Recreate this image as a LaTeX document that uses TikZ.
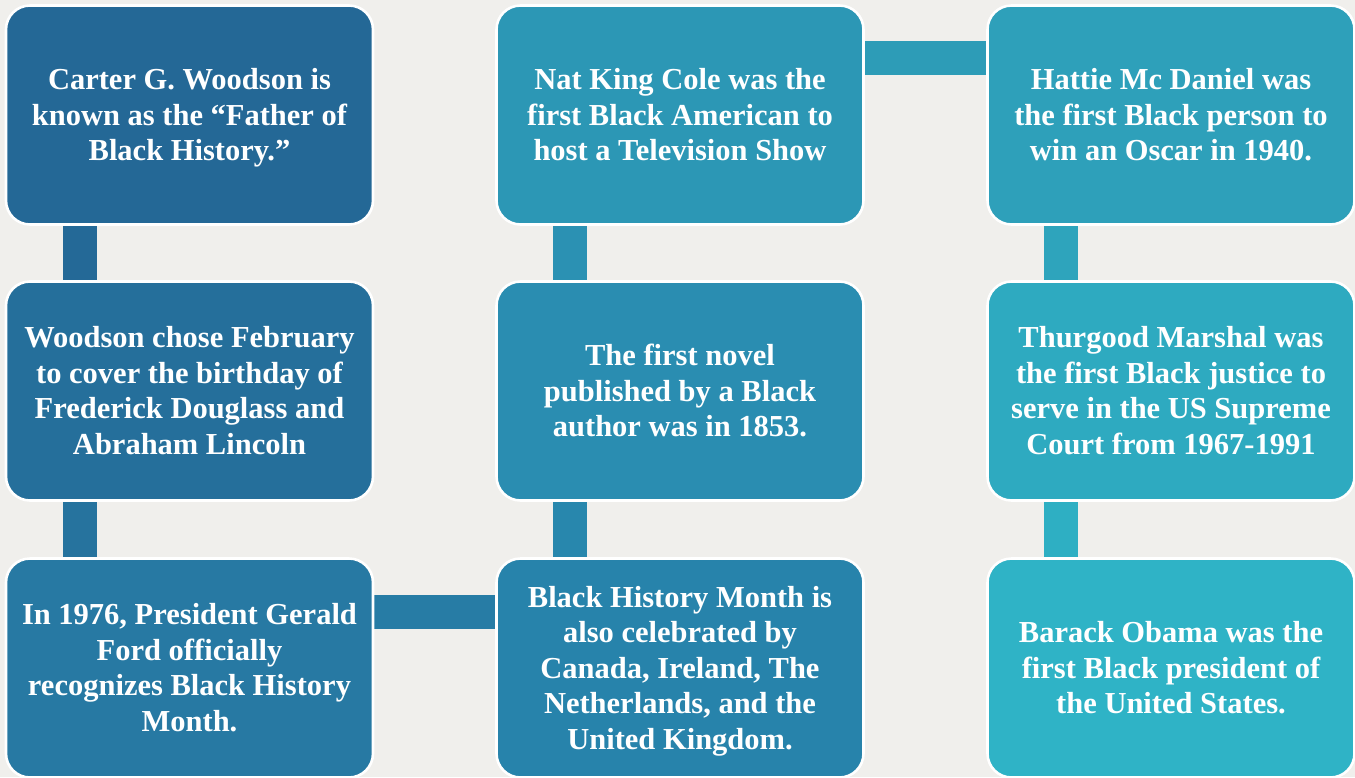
\documentclass[tikz,border=0pt]{standalone}
\usepackage{fontspec}
\setmainfont{Liberation Serif}
\usetikzlibrary{backgrounds}
\definecolor{bgc}{RGB}{240,239,236}
\definecolor{cA}{RGB}{36,104,150}
\definecolor{cB}{RGB}{37,111,155}
\definecolor{cC}{RGB}{39,121,163}
\definecolor{cD}{RGB}{39,131,171}
\definecolor{cE}{RGB}{42,141,177}
\definecolor{cF}{RGB}{44,151,181}
\definecolor{cG}{RGB}{46,160,186}
\definecolor{cH}{RGB}{46,170,192}
\definecolor{cI}{RGB}{47,179,198}
\newcommand{\factlead}{\rule{0pt}{31pt}}
\tikzset{
  factbox/.style={rectangle, rounded corners=24pt, draw=white, line width=2.6pt,
    minimum width=367pt, minimum height=219pt, inner sep=0pt, text=white,
    align=center, font=\bfseries\fontsize{30.5}{35.5}\selectfont,
    execute at end node=\strut},
  linkbar/.style={line width=34pt}
}
\begin{document}
\begin{tikzpicture}[x=1pt,y=-1pt]
\useasboundingbox (0,0) rectangle (1355,777);
% nodes
\node[factbox, fill=cA] (b1) at (189.5,115) {\factlead Carter G. Woodson is\\known as the “Father of\\Black History.”};
\node[factbox, fill=cB] (b2) at (189.5,391) {\factlead Woodson chose February\\to cover the birthday of\\Frederick Douglass and\\Abraham Lincoln};
\node[factbox, fill=cC] (b3) at (189.5,668) {\factlead In 1976, President Gerald\\Ford officially\\recognizes Black History\\Month.};
\node[factbox, fill=cD] (b4) at (680,668) {\factlead Black History Month is\\also celebrated by\\Canada, Ireland, The\\Netherlands, and the\\United Kingdom.};
\node[factbox, fill=cE] (b5) at (680,391) {\factlead The first novel\\published by a Black\\author was in 1853.};
\node[factbox, fill=cF] (b6) at (680,115) {\factlead Nat King Cole was the\\first Black American to\\host a Television Show};
\node[factbox, fill=cG] (b7) at (1171,115) {\factlead Hattie Mc Daniel was\\the first Black person to\\win an Oscar in 1940.};
\node[factbox, fill=cH] (b8) at (1171,391) {\factlead Thurgood Marshal was\\the first Black justice to\\serve in the US Supreme\\Court from 1967-1991};
\node[factbox, fill=cI] (b9) at (1171,668) {\factlead Barack Obama was the\\first Black president of\\the United States.};
% background and connectors behind the boxes
\begin{scope}[on background layer]
\fill[bgc] (0,0) rectangle (1355,777);
\draw[linkbar, color=cA!80!cB] ([xshift=-110pt]b1.south) -- ([xshift=-110pt]b2.north);
\draw[linkbar, color=cB!60!cC] ([xshift=-110pt]b2.south) -- ([xshift=-110pt]b3.north);
\draw[linkbar, color=cC!70!cD] ([yshift=56pt]b3.east) -- ([yshift=56pt]b4.west);
\draw[linkbar, color=cD!60!cE] ([xshift=-110pt]b4.north) -- ([xshift=-110pt]b5.south);
\draw[linkbar, color=cE!60!cF] ([xshift=-110pt]b5.north) -- ([xshift=-110pt]b6.south);
\draw[linkbar, color=cF!50!cG] ([yshift=57pt]b6.east) -- ([yshift=57pt]b7.west);
\draw[linkbar, color=cG!60!cH] ([xshift=-110pt]b7.south) -- ([xshift=-110pt]b8.north);
\draw[linkbar, color=cH!50!cI] ([xshift=-110pt]b8.south) -- ([xshift=-110pt]b9.north);
\end{scope}
\end{tikzpicture}
\end{document}
